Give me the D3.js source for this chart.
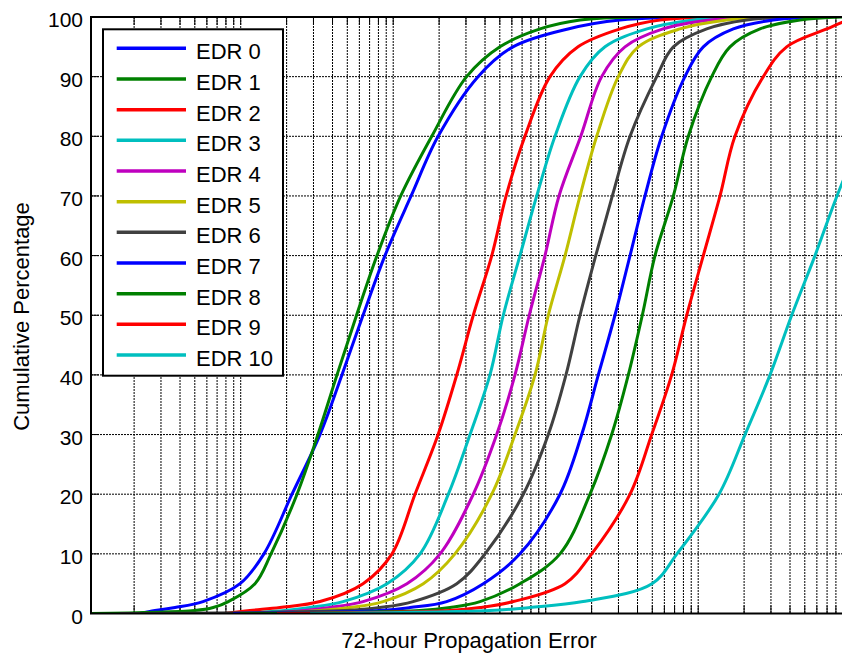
<!DOCTYPE html>
<html>
<head>
<meta charset="utf-8">
<script src="https://cdn.jsdelivr.net/npm/d3@7"></script>
<style>
  body { margin: 0; background: #fff; }
  svg { display: block; font-family: Arial, "Liberation Sans", Helvetica, sans-serif; }
</style>
</head>
<body>
<div id="chart"></div>
<script>
// cumulative percentages at which each curve was read
const percentiles = [0, 0.5, 1, 2, 5, 10, 20, 30, 40, 50, 60, 70, 80, 90, 95, 98, 99.5, 100]

// 72-hour propagation error at each percentile, one array per EDR level
const edr0  = [2.19, 2.74, 3.71, 5.66, 9.9, 14.2, 21.7, 33.1, 46.1, 63.4, 88.3, 131, 197, 360, 610, 1400, 3070, 13900]
const edr1  = [1.04, 5.0, 6.6, 8.3, 12.4, 15.8, 23.4, 32.1, 42.8, 57.5, 78.3, 112, 179, 303, 501, 918, 1680, 4150]
const edr2  = [7.9, 11.5, 18.1, 33.1, 63.4, 98.2, 139, 197, 261, 335, 443, 550, 731, 1067, 1630, 3070, 5620, 13900]
const edr3  = [10.7, 19.5, 28.5, 46.9, 91.1, 150, 230, 319, 431, 527, 678, 873, 1151, 1679, 2448, 4613, 9247, 18800]
const edr4  = [13.4, 26.4, 38.5, 63.4, 123, 203, 335, 477, 629, 780, 989, 1222, 1698, 2328, 3311, 5878, 11950, 25430]
const edr5  = [18.1, 33.1, 52.1, 85.7, 157.5, 254, 443, 629, 851, 1040, 1339, 1679, 2160, 2993, 4048, 7596, 15380, 34370]
const edr6  = [1.62, 48.3, 81.9, 135, 261, 400, 713, 1040, 1358, 1679, 2128, 2735, 3573, 5345, 6871, 11370, 20800, 46540]
const edr7  = [8.91, 81.9, 129, 224, 390, 678, 1241, 1722, 2213, 2846, 3573, 4477, 5764, 8185, 10800, 16990, 31060, 62900]
const edr8  = [9.9, 150, 236, 371, 678, 1241, 1952, 2708, 3481, 4299, 5209, 6871, 8613, 12260, 16160, 25430, 46540, 91800]
const edr9  = [17.3, 236, 371, 613, 1339, 2003, 3573, 4955, 6699, 8410, 10800, 13900, 17420, 26720, 38020, 69660, 95950, 115100]
const edr10 = [28.5, 431, 789, 1757, 4977, 7257, 13690, 20280, 29580, 41030, 58340, 81280, 118000, null, null, null, null, null]

const names  = ["EDR 0", "EDR 1", "EDR 2", "EDR 3", "EDR 4", "EDR 5", "EDR 6", "EDR 7", "EDR 8", "EDR 9", "EDR 10"]
const series = [edr0, edr1, edr2, edr3, edr4, edr5, edr6, edr7, edr8, edr9, edr10]
const colors = ["#0000ff", "#008000", "#ff0000", "#00bfbf", "#bf00bf", "#bfbf00", "#404040",
                "#0000ff", "#008000", "#ff0000", "#00bfbf"]

const yTicks = [0, 10, 20, 30, 40, 50, 60, 70, 80, 90, 100]

const W = 842, H = 654
const pLeft = 91, pRight = 850.7, pTop = 17, pBottom = 613.5

let svg = d3.select('#chart').append('svg')
    .attr('width', W)
    .attr('height', H)

let x = d3.scaleLog().domain([1.043, 1e5]).range([pLeft, pRight])
let y = d3.scaleLinear().domain([0, 100]).range([pBottom, pTop])

svg.append('clipPath').attr('id', 'plot')
    .append('rect')
    .attr('x', pLeft).attr('y', pTop)
    .attr('width', pRight - pLeft).attr('height', pBottom - pTop)

// dotted grid, log minor lines on x
let grid = svg.append('g')
    .attr('stroke', '#000')
    .attr('stroke-width', 1)
    .attr('stroke-dasharray', '2,1')

grid.selectAll('.vx')
    .data(x.ticks().filter(t => x(t) > pLeft + 1 && x(t) < pRight - 1))
    .join('line')
    .attr('x1', d => x(d)).attr('x2', d => x(d))
    .attr('y1', pTop).attr('y2', pBottom)

grid.selectAll('.hy')
    .data(yTicks.slice(1, -1))
    .join('line')
    .attr('x1', pLeft).attr('x2', pRight)
    .attr('y1', d => y(d)).attr('y2', d => y(d))

// inner tick marks
let ticks = svg.append('g').attr('stroke', '#000').attr('stroke-width', 1)
x.ticks().forEach(t => {
    ticks.append('line').attr('x1', x(t)).attr('x2', x(t)).attr('y1', pTop).attr('y2', pTop + 8)
    ticks.append('line').attr('x1', x(t)).attr('x2', x(t)).attr('y1', pBottom).attr('y2', pBottom - 8)
})
yTicks.forEach(t => {
    ticks.append('line').attr('x1', pLeft).attr('x2', pLeft + 8).attr('y1', y(t)).attr('y2', y(t))
})

// curves
let line = d3.line()
    .x(d => x(d[1]))
    .y(d => y(d[0]))
    .curve(d3.curveCatmullRom.alpha(0.5))

svg.append('g')
    .attr('clip-path', 'url(#plot)')
    .selectAll('path')
    .data(series)
    .join('path')
    .attr('d', s => line(percentiles.map((p, i) => [p, s[i]]).filter(d => d[1] != null)))
    .attr('fill', 'none')
    .attr('stroke', (s, i) => colors[i])
    .attr('stroke-width', 3)
    .attr('stroke-linejoin', 'round')

// axes box
svg.append('rect')
    .attr('x', pLeft).attr('y', pTop)
    .attr('width', pRight - pLeft).attr('height', pBottom - pTop)
    .attr('fill', 'none')
    .attr('stroke', '#000')
    .attr('stroke-width', 2)

// y tick labels
svg.append('g')
    .selectAll('text')
    .data(yTicks)
    .join('text')
    .attr('x', 83)
    .attr('y', d => y(d) + 10)
    .attr('text-anchor', 'end')
    .attr('font-size', 21)
    .text(d => d)

// axis labels
svg.append('text')
    .attr('x', 469)
    .attr('y', 648)
    .attr('text-anchor', 'middle')
    .attr('font-size', 22)
    .text('72-hour Propagation Error')

svg.append('text')
    .attr('transform', 'translate(29,316.5) rotate(-90)')
    .attr('text-anchor', 'middle')
    .attr('font-size', 22)
    .text('Cumulative Percentage')

// legend
let legend = svg.append('g')
legend.append('rect')
    .attr('x', 103).attr('y', 29.3)
    .attr('width', 180).attr('height', 346.4)
    .attr('fill', '#fff')
    .attr('stroke', '#000')
    .attr('stroke-width', 2)

names.forEach((n, i) => {
    let ly = 48.3 + i * 30.67
    legend.append('line')
        .attr('x1', 116.7).attr('x2', 186)
        .attr('y1', ly).attr('y2', ly)
        .attr('stroke', colors[i])
        .attr('stroke-width', 3.5)
    legend.append('text')
        .attr('x', 196)
        .attr('y', ly + 11)
        .attr('font-size', 22)
        .text(n)
})
</script>
</body>
</html>
